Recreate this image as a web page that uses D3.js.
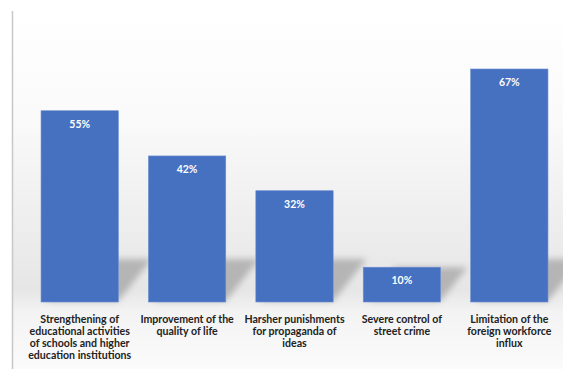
<!DOCTYPE html>
<html>
<head>
    <script src="https://d3js.org/d3.v7.min.js"></script>
    <style>
        body { margin: 0; background: #fff; }
        text { font-family: Lato, "Open Sans", sans-serif; font-weight: bold; }
    </style>
</head>
<body>
    <svg id="chart" width="563" height="369"></svg>

    <script>
        var categories = [
            ["Strengthening of", "educational activities", "of schools and higher", "education institutions"],
            ["Improvement of the", "quality of life"],
            ["Harsher punishments", "for propaganda of", "ideas"],
            ["Severe control of", "street crime"],
            ["Limitation of the", "foreign workforce", "influx"]
        ];
        var values = [55, 42, 32, 10, 67];

        var svg = d3.select("#chart");
        var defs = svg.append("defs");

        var bg = defs.append("linearGradient").attr("id", "bg").attr("x1", 0).attr("y1", 0).attr("x2", 0).attr("y2", 1);
        bg.append("stop").attr("offset", "0%").attr("stop-color", "#ffffff");
        bg.append("stop").attr("offset", "30%").attr("stop-color", "#fafafa");
        bg.append("stop").attr("offset", "78%").attr("stop-color", "#e6e6e6");
        bg.append("stop").attr("offset", "84%").attr("stop-color", "#f3f3f3");
        bg.append("stop").attr("offset", "100%").attr("stop-color", "#fbfbfb");

        defs.append("filter").attr("id", "blur")
            .attr("filterUnits", "userSpaceOnUse").attr("x", 0).attr("y", 0).attr("width", 563).attr("height", 369)
            .append("feGaussianBlur").attr("stdDeviation", 3);

        // panel
        svg.append("rect").attr("x", 12).attr("y", 11).attr("width", 551).attr("height", 358).attr("fill", "url(#bg)");
        svg.append("line").attr("x1", 12.5).attr("x2", 12.5).attr("y1", 11).attr("y2", 369).attr("stroke", "#c8c8c8").attr("stroke-width", 1.5);

        var xScale = d3.scaleBand().domain(d3.range(values.length)).range([26, 563]).paddingInner(0.28).paddingOuter(0.14);
        var yScale = d3.scaleLinear().domain([0, 67]).range([302, 69]);

        // shadows
        var shadows = svg.append("g").attr("filter", "url(#blur)");
        shadows.selectAll("path").data(values).enter().append("path")
            .attr("d", function (d, i) {
                var x0 = xScale(i), x1 = x0 + xScale.bandwidth(), b = yScale(0) - 1;
                var h = Math.min(42, b - yScale(d));
                var dx = h * 0.8;
                return "M" + (x0 + 4) + "," + b + "L" + x1 + "," + b + "L" + (x1 + dx) + "," + (b - h) + "L" + (x0 + 4 + dx) + "," + (b - h) + "Z";
            })
            .attr("fill", "#9a9a9a")
            .attr("fill-opacity", 0.65);

        // bars
        svg.selectAll(".bar").data(values).enter().append("rect").attr("class", "bar")
            .attr("x", (d, i) => xScale(i))
            .attr("y", d => yScale(d))
            .attr("width", xScale.bandwidth())
            .attr("height", d => yScale(0) - yScale(d))
            .attr("fill", "#4670c0")
            .attr("stroke", "#6d8fd0")
            .attr("stroke-width", 0.6);

        // values
        svg.selectAll(".val").data(values).enter().append("text").attr("class", "val")
            .attr("x", (d, i) => xScale(i) + xScale.bandwidth() / 2)
            .attr("y", d => yScale(d) + 17)
            .attr("text-anchor", "middle")
            .attr("fill", "#ffffff")
            .style("font-size", "10.5px")
            .text(d => d + "%");

        // category labels
        var labels = svg.selectAll(".cat").data(categories).enter().append("text").attr("class", "cat")
            .attr("x", (d, i) => xScale(i) + xScale.bandwidth() / 2)
            .attr("y", 323)
            .attr("text-anchor", "middle")
            .attr("fill", "#222")
            .style("font-size", "10.6px");
        labels.selectAll("tspan").data(d => d).enter().append("tspan")
            .attr("x", function () { return d3.select(this.parentNode).attr("x"); })
            .attr("dy", (d, i) => i === 0 ? 0 : 12)
            .text(d => d);
    </script>
</body>
</html>
